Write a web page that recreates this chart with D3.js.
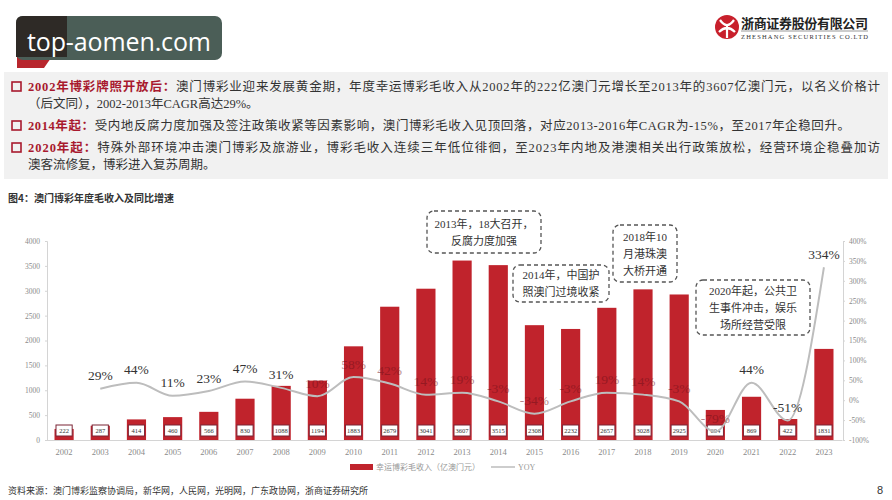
<!DOCTYPE html>
<html>
<head>
  <meta charset="utf-8">
  <title>澳门博彩年度毛收入及同比增速</title>
  <style>
    body { margin: 0; background: #fff; }
    svg { display: block; }
  </style>
</head>
<body>
  <div id="chart"></div>

  <script src="https://d3js.org/d3.v7.min.js"></script>
  <script>
    // data
    var years = ["2002","2003","2004","2005","2006","2007","2008","2009","2010","2011","2012",
                 "2013","2014","2015","2016","2017","2018","2019","2020","2021","2022","2023"];
    var revenue = [222,287,414,460,566,830,1088,1194,1883,2679,3041,3607,3515,2308,2232,2657,3028,2925,604,869,422,1831];
    var yoy = [null,29,44,11,23,47,31,10,58,42,14,19,-3,-34,-3,19,14,-3,-79,44,-51,334];
    var yoyShown = ["2003","2004","2005","2006","2007","2008","2021","2022","2023"];
    var leftTicks = [0,500,1000,1500,2000,2500,3000,3500,4000];
    var rightTicks = [-100,-50,0,50,100,150,200,250,300,350,400];

    var W = 892, H = 500;
    var red = "#c0232c";
    var serif = "'Liberation Serif','Noto Sans CJK SC',serif";
    var cjk = "'Liberation Serif','Noto Sans CJK SC',sans-serif";

    var svg = d3.select("#chart").append("svg")
        .attr("width", W)
        .attr("height", H);

    // ---- header watermark
    var wm = svg.append("g");
    wm.append("path")
        .attr("d", "M17,55 L53,55 L44,68 L17,68 Z")
        .attr("fill", "#b8262d");
    wm.append("rect")
        .attr("x", 16).attr("y", 16).attr("width", 206).attr("height", 44).attr("rx", 7)
        .attr("fill", "#4b5e57");
    wm.append("path")
        .attr("d", "M16,23 Q16,16 23,16 L67,16 L67,57 L16,57 Z")
        .attr("fill", "#2e2a26");
    wm.append("text")
        .attr("x", 27).attr("y", 51)
        .attr("font-family", "'Open Sans', sans-serif")
        .attr("font-size", 25)
        .attr("textLength", 184)
        .attr("fill", "#fff")
        .text("top-aomen.com");

    // ---- company logo
    var lg = svg.append("g");
    lg.append("circle").attr("cx", 727).attr("cy", 27).attr("r", 12).attr("fill", "#c8202c");
    lg.append("path")
        .attr("d", "M720,20 Q727,30 734,20 M719,32 Q727,24 735,32 M727,24 L727,38")
        .attr("fill", "none").attr("stroke", "#fff").attr("stroke-width", 2.2);
    lg.append("text")
        .attr("x", 741).attr("y", 28)
        .attr("font-family", "'Noto Sans CJK SC', sans-serif")
        .attr("font-size", 13).attr("font-weight", "bold")
        .attr("textLength", 127)
        .attr("fill", "#222")
        .text("浙商证券股份有限公司");
    lg.append("line")
        .attr("x1", 741).attr("x2", 868).attr("y1", 31).attr("y2", 31)
        .attr("stroke", "#555").attr("stroke-width", 0.6);
    lg.append("text")
        .attr("x", 741).attr("y", 38.5)
        .attr("font-family", "'Liberation Serif', serif")
        .attr("font-size", 6.5)
        .attr("textLength", 127)
        .attr("fill", "#333")
        .text("ZHESHANG SECURITIES CO.LTD");

    // ---- summary panel
    svg.append("rect")
        .attr("x", 4).attr("y", 72).attr("width", 884).attr("height", 107)
        .attr("fill", "#f1f1f1");

    var bullets = [
      {y: 91, head: "2002年博彩牌照开放后：", body: "澳门博彩业迎来发展黄金期，年度幸运博彩毛收入从2002年的222亿澳门元增长至2013年的3607亿澳门元，以名义价格计", fit: 852},
      {y: 108, head: "", body: "（后文同），2002-2013年CAGR高达29%。", fit: 0},
      {y: 130, head: "2014年起：", body: "受内地反腐力度加强及签注政策收紧等因素影响，澳门博彩毛收入见顶回落，对应2013-2016年CAGR为-15%，至2017年企稳回升。", fit: 822},
      {y: 152, head: "2020年起：", body: "特殊外部环境冲击澳门博彩及旅游业，博彩毛收入连续三年低位徘徊，至2023年内地及港澳相关出行政策放松，经营环境企稳叠加访", fit: 852},
      {y: 169, head: "", body: "澳客流修复，博彩进入复苏周期。", fit: 0}
    ];
    bullets.forEach(function(b) {
      if (b.head) {
        svg.append("rect")
            .attr("x", 12).attr("y", b.y - 9).attr("width", 9).attr("height", 9)
            .attr("fill", "none").attr("stroke", "#a8192e").attr("stroke-width", 1.6);
      }
      var t = svg.append("text")
          .attr("x", 28).attr("y", b.y)
          .attr("font-family", cjk)
          .attr("font-size", 12.5)
          .attr("fill", "#333");
      if (b.fit) t.attr("textLength", b.fit).attr("lengthAdjust", "spacing");
      if (b.head) t.append("tspan").attr("fill", "#a8192e").attr("font-weight", "bold").text(b.head);
      t.append("tspan").text(b.body);
    });

    // ---- chart title
    svg.append("text")
        .attr("x", 8).attr("y", 202)
        .attr("font-family", "'Noto Sans CJK SC', sans-serif")
        .attr("font-size", 10).attr("font-weight", "bold")
        .attr("fill", "#333")
        .text("图4：澳门博彩年度毛收入及同比增速");

    // ---- scales
    var x = d3.scaleBand()
        .domain(years)
        .range([46, 842])
        .paddingInner(0.47)
        .paddingOuter(0.235);

    var yL = d3.scaleLinear().domain([0, 4000]).range([440, 241]);
    var yR = d3.scaleLinear().domain([-100, 400]).range([440, 241]);

    var rows = years.map(function(yr, i) {
      return {year: yr, rev: revenue[i], yoy: yoy[i]};
    });

    // axes
    var axL = svg.append("g")
        .attr("transform", "translate(47,0)")
        .call(d3.axisLeft(yL).tickValues(leftTicks).tickSize(2).tickPadding(5)
              .tickFormat(d3.format("d")));
    var axR = svg.append("g")
        .attr("transform", "translate(843,0)")
        .call(d3.axisRight(yR).tickValues(rightTicks).tickSize(2).tickPadding(4)
              .tickFormat(function(d) { return d + "%"; }));
    var axB = svg.append("g")
        .attr("transform", "translate(0,440)")
        .call(d3.axisBottom(x).tickSize(0).tickPadding(9));
    [axL, axR, axB].forEach(function(a) {
      a.select(".domain").attr("stroke", "#d4d4d4");
      a.selectAll(".tick line").attr("stroke", "#d4d4d4");
      a.selectAll("text")
          .attr("font-family", serif)
          .attr("font-size", 7.5)
          .attr("fill", "#8a8a8a");
    });
    axB.selectAll("text").attr("font-size", 8.5);

    // bars
    svg.selectAll(".bar")
        .data(rows)
        .enter().append("rect")
        .attr("class", "bar")
        .attr("x", function(d) { return x(d.year); })
        .attr("y", function(d) { return yL(d.rev); })
        .attr("width", x.bandwidth())
        .attr("height", function(d) { return 440 - yL(d.rev); })
        .attr("fill", red);

    // value boxes at the foot of each bar
    var vb = svg.selectAll(".vbox")
        .data(rows)
        .enter().append("g")
        .attr("class", "vbox")
        .attr("transform", function(d) { return "translate(" + (x(d.year) + x.bandwidth() / 2) + ",0)"; });
    vb.append("rect")
        .attr("x", -x.bandwidth() / 2 + 1.5)
        .attr("y", 425)
        .attr("width", x.bandwidth() - 3)
        .attr("height", 11)
        .attr("fill", "#fff")
        .attr("stroke", "#7b2535")
        .attr("stroke-width", 1);
    vb.append("text")
        .attr("y", 433)
        .attr("text-anchor", "middle")
        .attr("font-family", serif)
        .attr("font-size", 6.5)
        .attr("fill", "#333")
        .text(function(d) { return d.rev; });

    // yoy line
    var line = d3.line()
        .defined(function(d) { return d.yoy !== null; })
        .x(function(d) { return x(d.year) + x.bandwidth() / 2; })
        .y(function(d) { return yR(d.yoy); })
        .curve(d3.curveMonotoneX);
    svg.append("path")
        .datum(rows)
        .attr("d", line)
        .attr("fill", "none")
        .attr("stroke", "#bdbdbd")
        .attr("stroke-width", 2);

    // yoy labels
    svg.selectAll(".yl")
        .data(rows.filter(function(d) { return d.yoy !== null; }))
        .enter().append("text")
        .attr("class", "yl")
        .attr("x", function(d) { return x(d.year) + x.bandwidth() / 2; })
        .attr("y", function(d) { return yR(d.yoy) - 8.5; })
        .attr("text-anchor", "middle")
        .attr("font-family", serif)
        .attr("font-size", 13.5)
        .attr("fill", function(d) { return yoyShown.indexOf(d.year) >= 0 ? "#333" : "#6e1019"; })
        .attr("opacity", function(d) { return yoyShown.indexOf(d.year) >= 0 ? 1 : 0.5; })
        .text(function(d) { return d.yoy + "%"; });

    // callouts
    var notes = [
      {x: 427, y: 211, w: 114, h: 42, lines: ["2013年，18大召开，", "反腐力度加强"]},
      {x: 513, y: 265, w: 96, h: 37, lines: ["2014年，中国护", "照澳门过境收紧"]},
      {x: 613, y: 225, w: 64, h: 57, lines: ["2018年10", "月港珠澳", "大桥开通"]},
      {x: 696, y: 280, w: 114, h: 55, lines: ["2020年起，公共卫", "生事件冲击，娱乐", "场所经营受限"]}
    ];
    notes.forEach(function(n) {
      svg.append("rect")
          .attr("x", n.x).attr("y", n.y).attr("width", n.w).attr("height", n.h).attr("rx", 7)
          .attr("fill", "#fff").attr("stroke", "#555")
          .attr("stroke-width", 1.3).attr("stroke-dasharray", "4,3");
      var step = 17;
      var top = n.y + n.h / 2 - (n.lines.length - 1) * step / 2 + 4;
      n.lines.forEach(function(s, i) {
        svg.append("text")
            .attr("x", n.x + n.w / 2).attr("y", top + i * step)
            .attr("text-anchor", "middle")
            .attr("font-family", cjk)
            .attr("font-size", 11)
            .attr("fill", "#333")
            .text(s);
      });
    });

    // legend
    svg.append("rect")
        .attr("x", 350).attr("y", 464).attr("width", 23).attr("height", 6)
        .attr("fill", red);
    svg.append("text")
        .attr("x", 376).attr("y", 470)
        .attr("font-family", cjk).attr("font-size", 8)
        .attr("fill", "#999")
        .text("幸运博彩毛收入（亿澳门元）");
    svg.append("line")
        .attr("x1", 491).attr("x2", 515).attr("y1", 467).attr("y2", 467)
        .attr("stroke", "#bdbdbd").attr("stroke-width", 1.5);
    svg.append("text")
        .attr("x", 518).attr("y", 470)
        .attr("font-family", serif).attr("font-size", 8)
        .attr("fill", "#999")
        .text("YOY");

    // source + page number
    svg.append("text")
        .attr("x", 8).attr("y", 494)
        .attr("font-family", "'Noto Sans CJK SC', sans-serif")
        .attr("font-size", 9)
        .attr("fill", "#333")
        .text("资料来源：澳门博彩监察协调局，新华网，人民网，光明网，广东政协网，浙商证券研究所");
    svg.append("text")
        .attr("x", 880).attr("y", 494)
        .attr("text-anchor", "middle")
        .attr("font-family", "'Liberation Sans', sans-serif")
        .attr("font-size", 11)
        .attr("fill", "#333")
        .text("8");
  </script>
</body>
</html>
